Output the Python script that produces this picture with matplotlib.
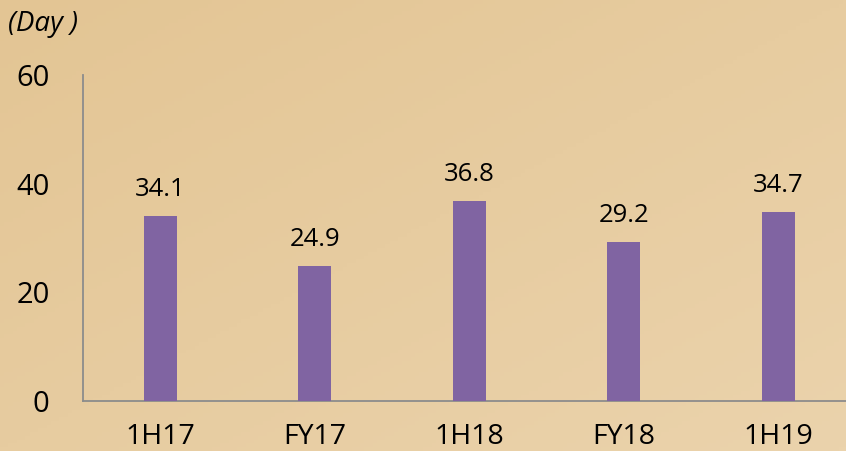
import matplotlib
matplotlib.use("Agg")
import matplotlib.pyplot as plt
import numpy as np
from matplotlib.colors import LinearSegmentedColormap

categories = ["1H17", "FY17", "1H18", "FY18", "1H19"]
values = [34.1, 24.9, 36.8, 29.2, 34.7]
yticks = [0, 20, 40, 60]
unit_label = "(Day )"

plt.rcParams['font.family'] = ['Open Sans', 'DejaVu Sans']

W, H = 846, 451
fig = plt.figure(figsize=(W / 100, H / 100), dpi=100)
fig.patch.set_facecolor("#E6CA9D")

# subtle background gradient
bg = fig.add_axes([0, 0, 1, 1], zorder=-10)
gy, gx = np.mgrid[0:1:120j, 0:1:200j]
grad = 0.5 * gx + 0.5 * (1 - gy)
cmap = LinearSegmentedColormap.from_list("bgc", ["#E3C594", "#EBD3AC"])
bg.imshow(grad, cmap=cmap, aspect="auto", extent=[0, 1, 0, 1], origin="lower")
bg.axis("off")

left = 83 / W
right_px = 83 + 5 * 154.5
bottom = (H - 401) / H
top = (H - 75) / H
ax = fig.add_axes([left, bottom, (right_px - 83) / W, top - bottom])
ax.set_facecolor("none")

x = np.arange(len(categories))
ax.bar(x, values, width=0.215, color="#8064A2", zorder=3)
for xi, v in zip(x, values):
    ax.text(xi, v + 2.6, f"{v}", ha="center", va="bottom", fontsize=18.5, color="#000000")

ax.set_xlim(-0.5, len(categories) - 0.5)
ax.set_ylim(0, 60)
ax.set_yticks(yticks)
ax.set_yticklabels([str(t) for t in yticks], fontsize=21, color="#000000")
ax.set_xticks(x)
ax.set_xticklabels(categories, fontsize=20.5, color="#000000")
ax.tick_params(axis="y", length=0, pad=24)
ax.tick_params(axis="x", length=0, pad=16)
for s in ["top", "right"]:
    ax.spines[s].set_visible(False)
for s in ["left", "bottom"]:
    ax.spines[s].set_color("#8C8C8C")
    ax.spines[s].set_linewidth(1.3)

fig.text(8 / W, 1 - 24 / H, unit_label, fontsize=20, style="italic",
         ha="left", va="center", color="#000000")

fig.savefig("out.png", dpi=100, facecolor=fig.get_facecolor())
